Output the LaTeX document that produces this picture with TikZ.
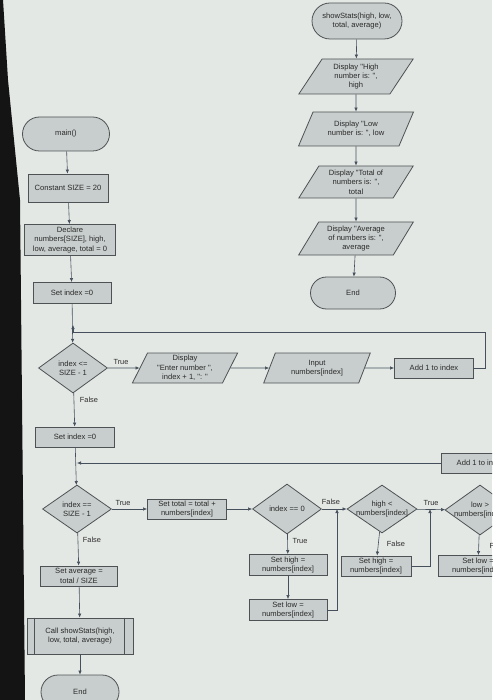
\documentclass[tikz,border=0pt]{standalone}
\usepackage{fontspec}
\newfontfamily\lab{Liberation Sans}
\usetikzlibrary{shapes.geometric,shapes.misc,arrows.meta}
\definecolor{bg}{HTML}{E4E8E5}
\definecolor{fillc}{HTML}{C8CECD}
\definecolor{edge}{HTML}{4E5254}
\definecolor{arrc}{HTML}{45505C}
\definecolor{txt}{HTML}{2B2B2B}
\begin{document}
\begin{tikzpicture}[x=1pt,y=-1pt,
  every node/.style={font=\lab\fontsize{7.6}{9.4}\selectfont, text=txt},
  shp/.style={draw=edge, fill=fillc, line width=0.8pt},
  term/.style={shp, rounded rectangle, align=center, inner sep=1pt},
  proc/.style={shp, rectangle, align=center, inner sep=1pt},
  io/.style={shp, trapezium, trapezium stretches=true, align=center, inner sep=0pt},
  dec/.style={shp, diamond, inner sep=0pt},
  arr/.style={draw=arrc, line width=0.6pt, -{Latex[length=4pt,width=3.5pt]}},
  tf/.style={font=\lab\fontsize{7.4}{8}\selectfont}]
\useasboundingbox (0,0) rectangle (492,700);
\fill[bg] (0,0) rectangle (492,700);
\fill[black!92] (0,0) -- (3,0) -- (8,80) -- (20,200) -- (25,700) -- (0,700) -- cycle;
\clip (0,0) rectangle (492,700);

% ---------- main ----------
\node[term, minimum width=89pt, minimum height=34pt] (main) at (66,134) {main()};
\node[proc, minimum width=80pt, minimum height=28pt] (const) at (68,188) {Constant SIZE = 20};
\node[proc, minimum width=91pt, minimum height=31pt] (decl) at (70,240) {Declare\\numbers[SIZE], high,\\low, average, total = 0};
\node[proc, minimum width=78pt, minimum height=21pt] (set1) at (72,293) {Set index =0};
\node[dec, minimum width=69pt, minimum height=50pt, label={[align=center]center:{index <=\\SIZE - 1}}] (d1) at (73,368) {};
\node[io, trapezium left angle=66, trapezium right angle=114, minimum width=106pt, minimum height=30pt] (disp1) at (185,368) {Display\\"Enter number ",\\index + 1, ": "};
\node[io, trapezium left angle=66, trapezium right angle=114, minimum width=107pt, minimum height=30pt] (input) at (317,368) {Input\\numbers[index]};
\node[proc, minimum width=79pt, minimum height=20pt] (add1) at (434,368) {Add 1 to index};
\coordinate (r1) at (485,332);
\coordinate (j1) at (73,332);

\node[proc, minimum width=79pt, minimum height=20pt] (set2) at (75,437) {Set index =0};
\coordinate (j2) at (77,463);
\node[proc, minimum width=79pt, minimum height=20pt] (add2) at (481,463) {Add 1 to index};
\node[dec, minimum width=69pt, minimum height=48pt, label={[align=center]center:{index ==\\SIZE - 1}}] (d2) at (77,509) {};
\node[proc, minimum width=79pt, minimum height=20pt] (settot) at (187,509) {Set total = total +\\numbers[index]};
\node[dec, minimum width=69pt, minimum height=50pt, label={[align=center]center:{index == 0}}] (d3) at (287,509) {};
\node[dec, minimum width=70pt, minimum height=48pt, label={[align=center]center:{high <\\numbers[index]}}] (d4) at (382,509) {};
\node[dec, minimum width=70pt, minimum height=50pt, label={[align=center]center:{low >\\numbers[index]}}] (d5) at (480,510) {};
\node[proc, minimum width=78pt, minimum height=21pt] (sh1) at (288,565) {Set high =\\numbers[index]};
\node[proc, minimum width=78pt, minimum height=21pt] (sl1) at (288,610) {Set low =\\numbers[index]};
\node[proc, minimum width=70pt, minimum height=20pt] (sh2) at (376,566) {Set high =\\numbers[index]};
\node[proc, minimum width=79pt, minimum height=21pt] (sl2) at (478,566) {Set low =\\numbers[index]};
\coordinate (m1) at (337,509);
\coordinate (m2) at (430,509);
\node[proc, minimum width=77pt, minimum height=20pt] (avg) at (79,576) {Set average =\\total / SIZE};
\node[proc, minimum width=106pt, minimum height=36pt] (call) at (80,636) {Call showStats(high,\\low, total, average)};
\draw[draw=edge, line width=0.8pt] ([xshift=8pt]call.north west) -- ([xshift=8pt]call.south west);
\draw[draw=edge, line width=0.8pt] ([xshift=-9pt]call.north east) -- ([xshift=-9pt]call.south east);
\node[term, minimum width=80pt, minimum height=34pt] (end2) at (80,692) {End};

% ---------- showStats ----------
\node[term, minimum width=92pt, minimum height=36pt] (ss) at (357,21) {showStats(high, low,\\total, average)};
\node[io, trapezium left angle=59, trapezium right angle=121, minimum width=115pt, minimum height=35pt] (dh) at (356,76.5) {Display "High\\number is: ",\\high};
\node[io, trapezium left angle=59, trapezium right angle=121, minimum width=115pt, minimum height=34pt] (dl) at (356,129) {Display "Low\\number is: ", low};
\node[io, trapezium left angle=59, trapezium right angle=121, minimum width=115pt, minimum height=32pt] (dt) at (356,182) {Display "Total of\\numbers is: ",\\total};
\node[io, trapezium left angle=59, trapezium right angle=121, minimum width=115pt, minimum height=33pt] (da) at (356,238.5) {Display "Average\\of numbers is: ",\\average};
\node[term, minimum width=87pt, minimum height=32pt] (end1) at (353,293) {End};

% ---------- connectors ----------
\draw[arr] (main) -- (const);
\draw[arr] (const) -- (decl);
\draw[arr] (decl) -- (set1);
\draw[arr] (set1) -- (d1);
\draw[arr] (add1.east) -| (r1) -- (j1) -- ++(0,-7);
\draw[arr] (d1) -- (disp1);
\draw[arr] (disp1) -- (input);
\draw[arr] (input) -- (add1);
\draw[arr] (d1) -- (set2);
\draw[arr] (set2) -- (d2);
\draw[arr] (add2.west) -- (j2);
\draw[arr] (d2) -- (settot);
\draw[arr] (settot) -- (d3);
\draw[arr] (d3) -- (d4);
\draw[arr] (d3) -- (sh1);
\draw[arr] (sh1) -- (sl1);
\draw[arr] (sl1.east) -| (m1);
\draw[arr] (d4) -- (d5);
\draw[arr] (d4) -- (sh2);
\draw[arr] (sh2.east) -| (m2);
\draw[arr] (d5) -- (sl2);
\draw[arr] (d2) -- (avg);
\draw[arr] (avg) -- (call);
\draw[arr] (call) -- (end2);

\draw[arr] (ss) -- (dh);
\draw[arr] (dh) -- (dl);
\draw[arr] (dl) -- (dt);
\draw[arr] (dt) -- (da);
\draw[arr] (da) -- (end1);

% ---------- branch labels ----------
\node[tf] (t1) at (121,362) {True};
\node[tf] (f1) at (89,400) {False};
\node[tf] (t2) at (123,503) {True};
\node[tf] (f2) at (92,540) {False};
\node[tf] (f3) at (331,502) {False};
\node[tf] (t3) at (300,541) {True};
\node[tf] (f4) at (396,544) {False};
\node[tf] (t4) at (431,503) {True};
\node[tf, anchor=west] (f5) at (486,546) {False};
\end{tikzpicture}
\end{document}
